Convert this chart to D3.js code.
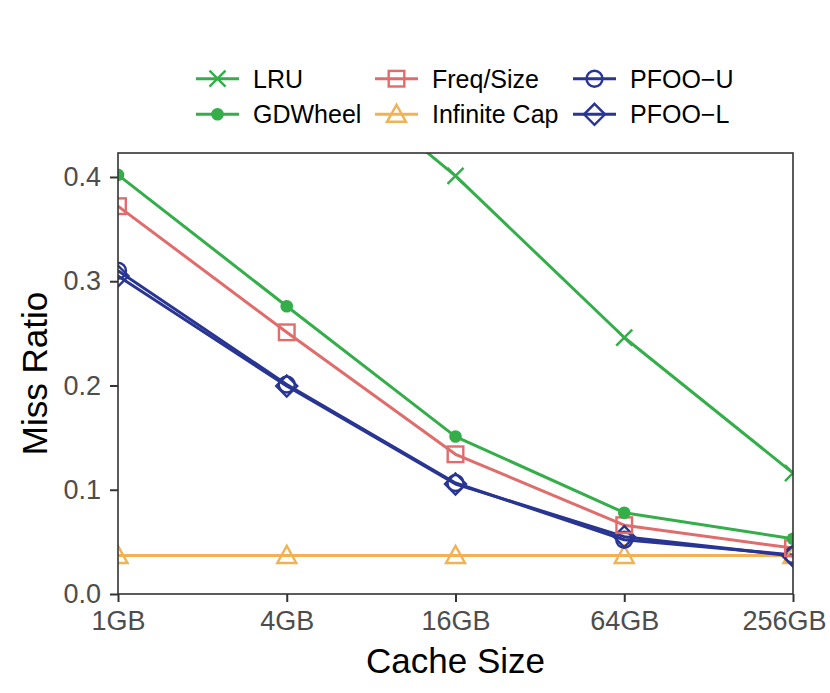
<!DOCTYPE html>
<html>
<head>
<meta charset="utf-8">
<script src="https://cdn.jsdelivr.net/npm/d3@7/dist/d3.min.js"></script>
<style>
  html, body { margin: 0; padding: 0; background: #fff; }
  svg { display: block; font-family: "Liberation Sans", Arial, Helvetica, sans-serif; }
</style>
</head>
<body>
<svg id="chart" width="830" height="693"></svg>
<script>
// ---- data ----
const cacheSizes = [1, 4, 16, 64, 256];           // GB
const tickLabels = ["1GB", "4GB", "16GB", "64GB", "256GB"];
const yTicks = [0.0, 0.1, 0.2, 0.3, 0.4];

const lru        = [0.62, 0.535, 0.401, 0.246, 0.116];
const gdwheel    = [0.402, 0.276, 0.151, 0.078, 0.053];
const freqSize   = [0.372, 0.251, 0.134, 0.066, 0.044];
const infiniteCap= [0.037, 0.037, 0.037, 0.037, 0.037];
const pfooU      = [0.310, 0.201, 0.1065, 0.052, 0.0375];
const pfooL      = [0.305, 0.1995, 0.1055, 0.055, 0.0365];

const seriesNames  = ["LRU", "GDWheel", "Freq/Size", "Infinite Cap", "PFOO\u2212U", "PFOO\u2212L"];
const seriesValues = [lru, gdwheel, freqSize, infiniteCap, pfooU, pfooL];
const seriesColors = ["#33AE49", "#33AE49", "#E06C6C", "#F0B253", "#283593", "#283593"];
const seriesShapes = ["cross", "dot", "square", "triangle", "circle", "diamond"];

// ---- layout ----
const svg = d3.select("#chart");
const panel = { left: 118, right: 793, top: 153, bottom: 594 };

const x = d3.scaleLog().base(2).domain([1, 256]).range([panel.left, panel.right]);
const y = d3.scaleLinear().domain([0, 0.423]).range([panel.bottom, panel.top]);

svg.append("defs").append("clipPath").attr("id", "panelClip")
  .append("rect")
  .attr("x", panel.left).attr("y", panel.top)
  .attr("width", panel.right - panel.left).attr("height", panel.bottom - panel.top);

// marker drawing
function drawMarker(g, shape, cx, cy, color) {
  const sw = 2.4;
  if (shape === "cross") {
    const s = 8;
    g.append("path")
      .attr("d", `M${cx - s},${cy - s}L${cx + s},${cy + s}M${cx - s},${cy + s}L${cx + s},${cy - s}`)
      .attr("stroke", color).attr("stroke-width", sw).attr("fill", "none");
  } else if (shape === "dot") {
    g.append("circle").attr("cx", cx).attr("cy", cy).attr("r", 6.3).attr("fill", color);
  } else if (shape === "square") {
    const s = 7.8;
    g.append("rect").attr("x", cx - s).attr("y", cy - s).attr("width", 2 * s).attr("height", 2 * s)
      .attr("stroke", color).attr("stroke-width", sw).attr("fill", "none");
  } else if (shape === "triangle") {
    const h = 8.5, w = 9.5;
    g.append("path")
      .attr("d", `M${cx},${cy - h - 1}L${cx + w},${cy + h - 1}L${cx - w},${cy + h - 1}Z`)
      .attr("stroke", color).attr("stroke-width", sw).attr("fill", "none");
  } else if (shape === "circle") {
    g.append("circle").attr("cx", cx).attr("cy", cy).attr("r", 8)
      .attr("stroke", color).attr("stroke-width", sw).attr("fill", "none");
  } else if (shape === "diamond") {
    const s = 10.5;
    g.append("path")
      .attr("d", `M${cx},${cy - s}L${cx + s},${cy}L${cx},${cy + s}L${cx - s},${cy}Z`)
      .attr("stroke", color).attr("stroke-width", sw).attr("fill", "none");
  }
}

// ---- series ----
const plot = svg.append("g").attr("clip-path", "url(#panelClip)");
const line = d3.line().x((d, i) => x(cacheSizes[i])).y(d => y(d));

// draw order: bottom first
const order = [3, 5, 4, 2, 1, 0];
order.forEach(si => {
  plot.append("path")
    .datum(seriesValues[si])
    .attr("d", line)
    .attr("fill", "none")
    .attr("stroke", seriesColors[si])
    .attr("stroke-width", 3)
    .attr("stroke-linejoin", "round");
});
order.forEach(si => {
  const g = plot.append("g");
  seriesValues[si].forEach((v, i) => {
    drawMarker(g, seriesShapes[si], x(cacheSizes[i]), y(v), seriesColors[si]);
  });
});

// ---- panel border ----
svg.append("rect")
  .attr("x", panel.left).attr("y", panel.top)
  .attr("width", panel.right - panel.left).attr("height", panel.bottom - panel.top)
  .attr("fill", "none").attr("stroke", "#333333").attr("stroke-width", 1.6);

// ---- axes ----
const tickFont = 27;
const xAxis = d3.axisBottom(x)
  .tickValues(cacheSizes)
  .tickFormat((d, i) => tickLabels[i])
  .tickSize(8).tickPadding(8.5);
const gx = svg.append("g").attr("transform", `translate(0,${panel.bottom})`).call(xAxis);
gx.select(".domain").remove();
gx.selectAll(".tick line").attr("stroke", "#333333").attr("stroke-width", 2);
gx.selectAll(".tick text").attr("fill", "#4D4D4D").attr("font-size", tickFont)
  .attr("font-family", "Liberation Sans, Arial, sans-serif").attr("dy", "0.71em");
// last label is pushed inward so it stays on the page
gx.selectAll(".tick text").filter((d, i, n) => i === n.length - 1)
  .attr("text-anchor", "end").attr("x", 826 - panel.right);

const yAxis = d3.axisLeft(y)
  .tickValues(yTicks)
  .tickFormat(d3.format(".1f"))
  .tickSize(8).tickPadding(9);
const gy = svg.append("g").attr("transform", `translate(${panel.left},0)`).call(yAxis);
gy.select(".domain").remove();
gy.selectAll(".tick line").attr("stroke", "#333333").attr("stroke-width", 2);
gy.selectAll(".tick text").attr("fill", "#4D4D4D").attr("font-size", tickFont)
  .attr("font-family", "Liberation Sans, Arial, sans-serif");

// axis titles
svg.append("text")
  .attr("x", (panel.left + panel.right) / 2).attr("y", 673)
  .attr("text-anchor", "middle").attr("font-size", 35).attr("fill", "#000")
  .text("Cache Size");
svg.append("text")
  .attr("transform", `translate(47,${(panel.top + panel.bottom) / 2}) rotate(-90)`)
  .attr("text-anchor", "middle").attr("font-size", 35).attr("fill", "#000")
  .text("Miss Ratio");

// ---- legend ----
const legendCols = [196, 375, 573];   // key line start x per column
const legendRows = [78.7, 114.3];
const legend = svg.append("g");
seriesNames.forEach((name, si) => {
  const col = Math.floor(si / 2), row = si % 2;
  const x0 = legendCols[col], yy = legendRows[row];
  const g = legend.append("g");
  g.append("line").attr("x1", x0).attr("x2", x0 + 43).attr("y1", yy).attr("y2", yy)
    .attr("stroke", seriesColors[si]).attr("stroke-width", 3);
  drawMarker(g, seriesShapes[si], x0 + 21.5, yy, seriesColors[si]);
  g.append("text").attr("x", x0 + 57).attr("y", yy).attr("dy", "0.36em")
    .attr("font-size", 25).attr("fill", "#000").text(name);
});
</script>
</body>
</html>
